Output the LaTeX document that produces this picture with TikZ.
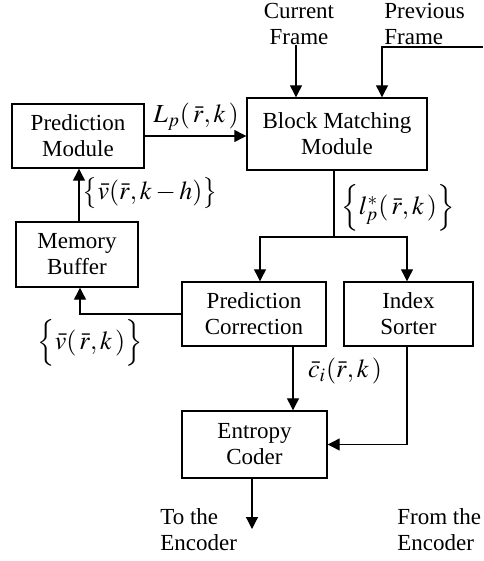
\documentclass[tikz,border=0pt]{standalone}
\usepackage{mathptmx}
\usepackage{fontspec}
\setmainfont{Liberation Serif}
\usepackage{tikz}
\usetikzlibrary{calc,positioning,arrows.meta}
\tikzset{
    block/.style={
    rectangle,draw=black,line width=0.7pt,align=center,inner sep=0pt
    },
    lbl/.style={inner sep=0pt},
    sig/.style={inner sep=0pt,font=\fontsize{13}{15}\selectfont},
  line/.style={draw, line width=0.6pt, -{Triangle[length=6pt,width=6pt]}},
  wire/.style={draw, line width=0.6pt},
}

\begin{document}
\begin{tikzpicture}[x=0.5pt,y=-0.5pt,font=\fontsize{11.5}{13}\selectfont]
\useasboundingbox (0,0) rectangle (483,561);

  % blocks
  \node[block,minimum width=66pt,minimum height=32pt] (pred) at (78,136) {Prediction\\Module};
  \node[block,minimum width=90pt,minimum height=36pt] (bmm) at (337,134) {Block Matching\\Module};
  \node[block,minimum width=61pt,minimum height=32.5pt] (mem) at (77,254.5) {Memory\\Buffer};
  \node[block,minimum width=72pt,minimum height=32pt] (corr) at (254,314) {Prediction\\Correction};
  \node[block,minimum width=64.5pt,minimum height=32pt] (sorter) at (408.5,314) {Index\\Sorter};
  \node[block,minimum width=72.5pt,minimum height=33.5pt] (coder) at (254.5,444.5) {Entropy\\Coder};

  % inputs and outputs
  \node[lbl,align=center] (cur) at (299,24) {Current\\Frame};
  \node[lbl,align=left,anchor=west] (prev) at (384,24) {Previous\\Frame};
  \node[lbl,align=left,anchor=west] (toenc) at (160,530) {To the\\Encoder};
  \node[lbl,align=left,anchor=west] (fromenc) at (397,530) {From the\\Encoder};
  \coordinate (previn) at (483,47);
  \coordinate (split) at (334,237);
  \coordinate (out) at (252,529);

  % connectors
  \path[line] ([xshift=-1.5pt]cur.south) -- ([xshift=-1.5pt]cur.south |- bmm.north);
  \path[line] (previn) -| ([xshift=22.5pt]bmm.north);
  \path[line] (pred.east) -- (pred.east -| bmm.west);
  \path[line] ([xshift=1pt]mem.north) -- ([xshift=1pt]mem.north |- pred.south);
  \path[wire] (bmm.south -| split) -- (split);
  \path[line] (split) -| ([xshift=3pt]corr.north);
  \path[line] (split) -| ([xshift=-0.75pt]sorter.north);
  \path[line] (corr.west) -| ([xshift=1.5pt]mem.south);
  \path[line] ([xshift=19.5pt]corr.south) -- ([xshift=19.5pt]corr.south |- coder.north);
  \path[line] ([xshift=-0.75pt]sorter.south) |- (coder.east);
  \path[line] (coder.south -| out) -- (out);

  % signal labels
  \node[sig] (lp) at (196,117) {$L_p(\,\bar r,k\,)$};
  \node[sig] (vkh) at (150,193) {$\bigl\{\bar v(\bar r,k-h)\bigr\}$};
  \node[sig] (lstar) at (398,208) {$\Bigl\{l^{*}_{p}(\,\bar r,k\,)\Bigr\}$};
  \node[sig] (vk) at (90,343) {$\Bigl\{\bar v(\,\bar r,k\,)\Bigr\}$};
  \node[sig] (ci) at (345,371) {$\bar c_i(\bar r,k\,)$};
\end{tikzpicture}
\end{document}
